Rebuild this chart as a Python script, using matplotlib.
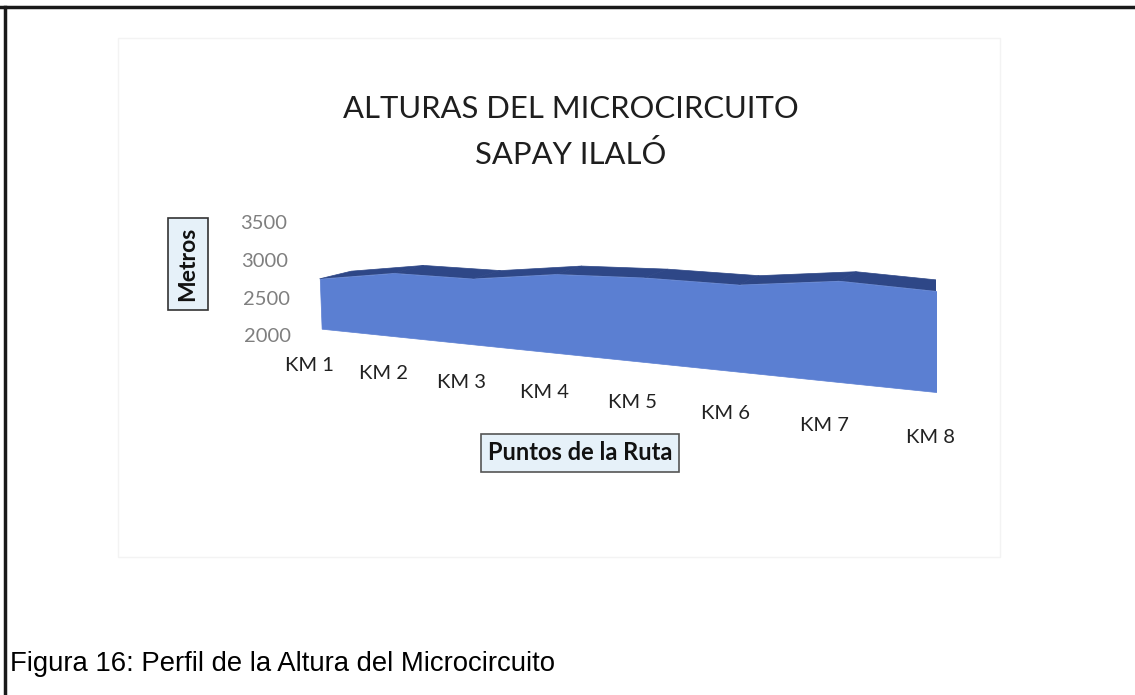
import matplotlib
matplotlib.use("Agg")
import matplotlib.pyplot as plt
from mpl_toolkits.mplot3d.art3d import Poly3DCollection
from mpl_toolkits.mplot3d import proj3d
from matplotlib.patches import Rectangle
from matplotlib.lines import Line2D

categories = ["KM 1", "KM 2", "KM 3", "KM 4", "KM 5", "KM 6", "KM 7", "KM 8"]
alturas = [2690, 2850, 2860, 3000, 3040, 3040, 3170, 3130]
z_ticks = [2000, 2500, 3000, 3500]
z_min, z_max = 2000, 3500

title = "ALTURAS DEL MICROCIRCUITO\nSAPAY ILALÓ"
y_label = "Metros"
x_label = "Puntos de la Ruta"
caption = "Figura 16: Perfil de la Altura del Microcircuito"

FRONT = "#5B7FD2"
TOP = "#2E4787"
FONT = "Lato"

W, H = 1135, 695
fig = plt.figure(figsize=(W / 100, H / 100), dpi=100)
fig.patch.set_facecolor("white")

# page borders (top and left)
fig.add_artist(Line2D([0, 1], [1 - 6.5 / H, 1 - 6.5 / H], color="#1a1a1a", lw=2.5))
fig.add_artist(Line2D([4.5 / W, 4.5 / W], [0, 1 - 6.5 / H], color="#1a1a1a", lw=2.5))
# faint chart area frame
fig.add_artist(Rectangle((118 / W, 1 - 557 / H), (1000 - 118) / W, (557 - 38) / H,
                         fill=False, ec="#f3f3f3", lw=1.0))

ax = fig.add_axes([0.0313, 0.0868, 1.0, 0.9574], projection="3d")
ax.set_proj_type("persp", focal_length=0.38)
ax.view_init(elev=10, azim=-65)
n = len(alturas)
ax.set_xlim(0, n - 1)
ax.set_ylim(0, 1)
ax.set_zlim(z_min, z_max)
ax.set_box_aspect((7, 0.6, 1.25))
ax.set_axis_off()
ax.computed_zorder = False

xs = list(range(n))
front = [(x, 0, z_min) for x in xs] + [(x, 0, v) for x, v in zip(xs[::-1], alturas[::-1])]
top = []
for i in range(n - 1):
    top.append([(xs[i], 0, alturas[i]), (xs[i + 1], 0, alturas[i + 1]),
                (xs[i + 1], 1, alturas[i + 1]), (xs[i], 1, alturas[i])])
pc_top = Poly3DCollection(top, facecolor=TOP, edgecolor=TOP, lw=0.5)
pc_front = Poly3DCollection([front], facecolor=FRONT, edgecolor=FRONT, lw=0.5)
ax.add_collection3d(pc_top)
ax.add_collection3d(pc_front)
pc_top.set_zorder(1)
pc_front.set_zorder(2)

M = ax.get_proj()


def put(x, y, z, s, **kw):
    px, py, _ = proj3d.proj_transform(x, y, z, M)
    ax.text2D(px, py, s, transform=ax.transData, **kw)


for x, lab in zip(xs, categories):
    put(x - 0.05, -0.3, z_min - 470, lab, ha="center", va="center",
        fontsize=14.5, family=FONT, color="#222222")
for z in z_ticks:
    put(-0.05, -0.8, z, str(z), ha="right", va="center",
        fontsize=14.5, family=FONT, color="#7f7f7f")

fig.text(571 / W, 1 - 132 / H, title, ha="center", va="center", fontsize=22.3,
         family=FONT, color="#1e1e1e", linespacing=1.72)
fig.text(188 / W, 1 - 264 / H, y_label, ha="center", va="center", rotation=90,
         fontsize=16.5, family=FONT, fontweight="bold", color="#111111",
         bbox=dict(boxstyle="square,pad=0.4", fc="#E6F1F9", ec="#333333", lw=1.2))
fig.text(580 / W, 1 - 453 / H, x_label, ha="center", va="center",
         fontsize=17, family=FONT, fontweight="bold", color="#111111",
         bbox=dict(boxstyle="square,pad=0.3", fc="#E6F1F9", ec="#555555", lw=1.2))
fig.text(10 / W, 1 - 664 / H, caption, ha="left", va="center", fontsize=19.8,
         family="Liberation Sans", color="#000000")

fig.savefig("out.png", dpi=100)
